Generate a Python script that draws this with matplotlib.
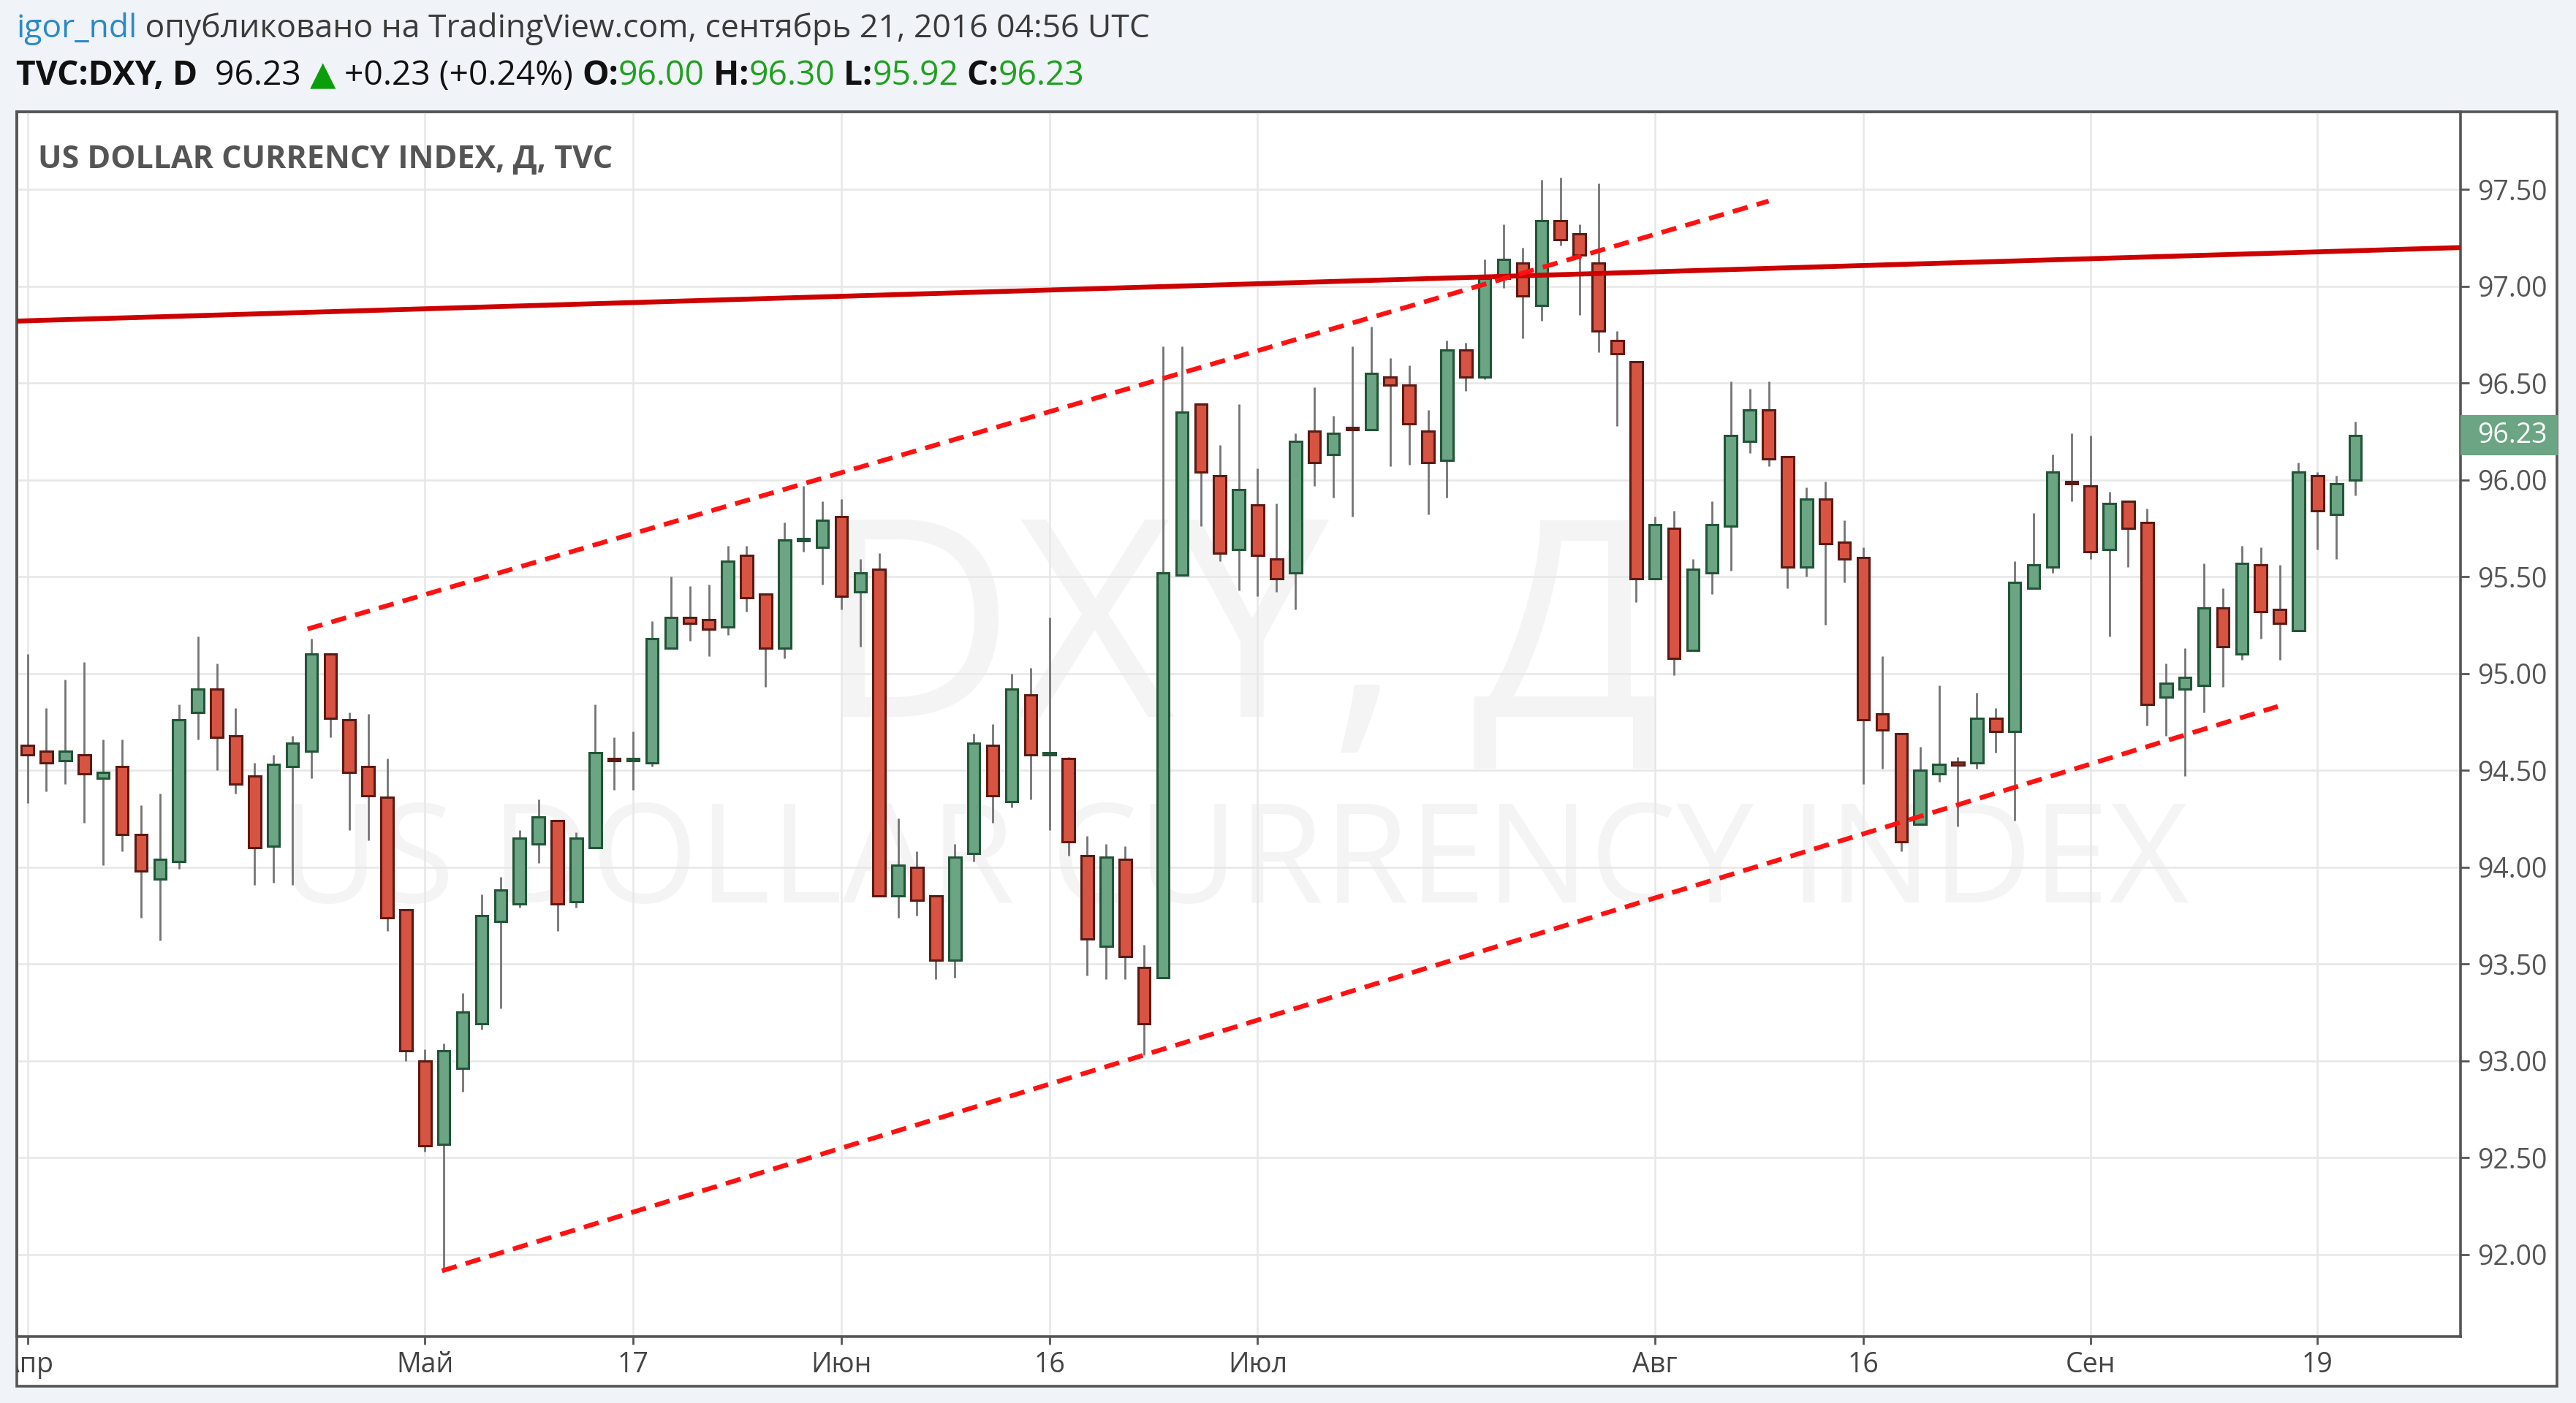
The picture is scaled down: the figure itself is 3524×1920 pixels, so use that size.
import numpy as np
import matplotlib
matplotlib.use('Agg')
import matplotlib.pyplot as plt
from matplotlib.patches import Rectangle
from matplotlib.transforms import Bbox, TransformedBbox, blended_transform_factory

# ---------------- data (TVC:DXY daily, 2016-04-01 .. 2016-09-21) ----------------
opens = [94.63, 94.60, 94.55, 94.58, 94.46, 94.52, 94.17, 93.94, 94.03, 94.80,
         94.92, 94.68, 94.47, 94.11, 94.52, 94.60, 95.10, 94.76, 94.52, 94.36,
         93.78, 93.00, 92.57, 92.96, 93.19, 93.72, 93.81, 94.12, 94.24, 93.82,
         94.10, 94.56, 94.55, 94.54, 95.13, 95.29, 95.28, 95.24, 95.61, 95.41,
         95.13, 95.69, 95.65, 95.81, 95.42, 95.54, 93.85, 94.00, 93.85, 93.52,
         94.07, 94.63, 94.34, 94.89, 94.58, 94.56, 94.06, 93.59, 94.04, 93.48,
         93.43, 95.51, 96.39, 96.02, 95.64, 95.87, 95.59, 95.52, 96.25, 96.13,
         96.27, 96.26, 96.53, 96.49, 96.25, 96.10, 96.67, 96.53, 97.04, 97.12,
         96.90, 97.34, 97.27, 97.12, 96.72, 96.61, 95.49, 95.75, 95.12, 95.52,
         95.76, 96.20, 96.36, 96.12, 95.55, 95.90, 95.68, 95.60, 94.79, 94.69,
         94.22, 94.48, 94.54, 94.54, 94.77, 94.70, 95.44, 95.55, 95.99, 95.97,
         95.64, 95.89, 95.78, 94.88, 94.92, 94.94, 95.34, 95.10, 95.56, 95.33,
         95.22, 96.02, 95.82, 96.00]
highs = [95.10, 94.82, 94.97, 95.06, 94.66, 94.66, 94.32, 94.38, 94.84, 95.19,
         95.05, 94.82, 94.54, 94.58, 94.68, 95.18, 95.10, 94.80, 94.79, 94.56,
         93.78, 93.06, 93.09, 93.35, 93.86, 93.95, 94.19, 94.35, 94.24, 94.18,
         94.84, 94.67, 94.70, 95.27, 95.50, 95.45, 95.46, 95.66, 95.66, 95.41,
         95.78, 95.97, 95.89, 95.90, 95.59, 95.62, 94.25, 94.08, 93.85, 94.12,
         94.69, 94.74, 95.00, 95.03, 95.29, 94.57, 94.16, 94.12, 94.11, 93.60,
         96.69, 96.69, 96.39, 96.18, 96.39, 96.06, 95.88, 96.24, 96.48, 96.33,
         96.69, 96.79, 96.63, 96.59, 96.36, 96.72, 96.71, 97.14, 97.32, 97.20,
         97.55, 97.56, 97.32, 97.53, 96.77, 96.61, 95.81, 95.84, 95.59, 95.89,
         96.51, 96.47, 96.51, 96.12, 95.96, 95.99, 95.79, 95.65, 95.09, 94.69,
         94.62, 94.94, 94.57, 94.90, 94.82, 95.58, 95.83, 96.13, 96.24, 96.23,
         95.94, 95.89, 95.85, 95.05, 95.13, 95.57, 95.44, 95.66, 95.65, 95.56,
         96.09, 96.04, 96.02, 96.30]
lows = [94.33, 94.39, 94.43, 94.23, 94.01, 94.08, 93.74, 93.62, 93.99, 94.66,
        94.50, 94.38, 93.91, 93.92, 93.91, 94.46, 94.67, 94.19, 94.14, 93.67,
        93.00, 92.53, 91.92, 92.84, 93.16, 93.27, 93.79, 94.02, 93.67, 93.79,
        94.10, 94.40, 94.40, 94.52, 95.13, 95.17, 95.09, 95.20, 95.32, 94.93,
        95.08, 95.63, 95.46, 95.33, 95.14, 93.85, 93.74, 93.75, 93.42, 93.43,
        94.03, 94.23, 94.31, 94.35, 94.19, 94.06, 93.44, 93.42, 93.42, 93.03,
        93.43, 95.51, 95.76, 95.58, 95.43, 95.40, 95.42, 95.33, 95.97, 95.91,
        95.81, 96.26, 96.07, 96.08, 95.82, 95.91, 96.46, 96.52, 96.99, 96.73,
        96.82, 97.21, 96.85, 96.66, 96.28, 95.37, 95.49, 94.99, 95.12, 95.41,
        95.53, 96.14, 96.07, 95.44, 95.50, 95.25, 95.47, 94.43, 94.51, 94.08,
        94.22, 94.44, 94.21, 94.51, 94.59, 94.24, 95.44, 95.52, 95.89, 95.59,
        95.19, 95.55, 94.73, 94.68, 94.47, 94.80, 94.93, 95.07, 95.18, 95.07,
        95.22, 95.64, 95.59, 95.92]
closes = [94.58, 94.54, 94.60, 94.48, 94.49, 94.17, 93.98, 94.04, 94.76, 94.92,
          94.67, 94.43, 94.10, 94.53, 94.64, 95.10, 94.77, 94.49, 94.37, 93.74,
          93.05, 92.56, 93.05, 93.25, 93.75, 93.88, 94.15, 94.26, 93.81, 94.15,
          94.59, 94.55, 94.56, 95.18, 95.29, 95.26, 95.23, 95.58, 95.39, 95.13,
          95.69, 95.69, 95.79, 95.40, 95.52, 93.85, 94.01, 93.83, 93.52, 94.05,
          94.64, 94.37, 94.92, 94.58, 94.59, 94.13, 93.63, 94.05, 93.54, 93.19,
          95.52, 96.35, 96.04, 95.62, 95.95, 95.61, 95.49, 96.20, 96.09, 96.24,
          96.26, 96.55, 96.49, 96.29, 96.09, 96.67, 96.53, 97.04, 97.14, 96.95,
          97.34, 97.24, 97.16, 96.77, 96.65, 95.49, 95.77, 95.08, 95.54, 95.77,
          96.23, 96.36, 96.11, 95.55, 95.90, 95.67, 95.59, 94.76, 94.71, 94.13,
          94.50, 94.53, 94.53, 94.77, 94.70, 95.47, 95.56, 96.04, 95.98, 95.63,
          95.88, 95.75, 94.84, 94.95, 94.98, 95.34, 95.14, 95.57, 95.32, 95.26,
          96.04, 95.84, 95.98, 96.23]

tick_idx = [0, 21, 32, 43, 54, 65, 86, 97, 109, 121]
tick_labels = ['Апр', 'Май', '17', 'Июн', '16', 'Июл', 'Авг', '16', 'Сен', '19']
y_ticks = [92.0, 92.5, 93.0, 93.5, 94.0, 94.5, 95.0, 95.5, 96.0, 96.5, 97.0, 97.5]
last_price = 96.23

# drawn trend lines (bar index, price)
resist_x, resist_y = [-0.6, 128.6], [96.82, 97.20]
upper_x, upper_y = [14.8, 92.0], [95.23, 97.44]
lower_x, lower_y = [21.9, 118.9], [91.915, 94.83]

# ---------------- figure ----------------
W, H, DPI = 3524, 1920, 200
plt.rcParams['font.family'] = ['Open Sans', 'DejaVu Sans']
fig = plt.figure(figsize=(W / DPI, H / DPI), dpi=DPI, facecolor='#f0f3f8')


def fx(px):
    return px / W


def fy(py):
    return 1 - py / H


PL, PR, PT, PB = 22.5, 3498, 153, 1897      # outer white panel (px)
AL, AR, AT, AB = 22.5, 3365.6, 153, 1829    # plot area (px)
YMIN, YMAX = 91.576, 97.901

panel = Rectangle((fx(PL), fy(PB)), fx(PR) - fx(PL), fy(PT) - fy(PB),
                  transform=fig.transFigure, facecolor='white',
                  edgecolor='#555555', lw=1.3, zorder=-5)
fig.patches.append(panel)

ax = fig.add_axes([fx(AL), fy(AB), fx(AR) - fx(AL), fy(AT) - fy(AB)])
ax.set_zorder(2)
ax.set_facecolor('none')
ax.set_xlim(-0.583, 128.54)
ax.set_ylim(YMIN, YMAX)

# watermark
ax.text(0.5, 0.565, 'DXY, Д', transform=ax.transAxes, ha='center', va='center',
        fontsize=136, color='#f4f4f4', zorder=0.1)
ax.text(0.498, 0.3837, 'US DOLLAR CURRENCY INDEX', transform=ax.transAxes,
        ha='center', va='center', fontsize=68, color='#f4f4f4', zorder=0.1)

# grid
ax.set_axisbelow(True)
ax.set_xticks(tick_idx)
ax.set_yticks(y_ticks)
ax.grid(True, color='#e7e7e7', lw=0.9)

# candles
o = np.array(opens); h = np.array(highs); l = np.array(lows); c = np.array(closes)
x = np.arange(len(o))
up = c >= o
bh = np.maximum(np.abs(c - o), 0.012)
bb = (o + c) / 2 - bh / 2
ax.vlines(x, l, h, color='#747474', lw=1.0, zorder=3)
ax.bar(x[up], bh[up], bottom=bb[up], width=0.64, color='#6ba583',
       edgecolor='#225437', lw=1.1, zorder=4)
ax.bar(x[~up], bh[~up], bottom=bb[~up], width=0.64, color='#d75442',
       edgecolor='#5b1a13', lw=1.1, zorder=4)

# trend lines
ax.plot(resist_x, resist_y, color='#cc0000', lw=2.4, zorder=5, solid_capstyle='butt')
for xs, ys in ((upper_x, upper_y), (lower_x, lower_y)):
    ax.plot(xs, ys, color='#ff1111', lw=2.3, ls=(0, (3.3, 2.0)), zorder=5,
            dash_capstyle='butt')

# spines / ticks
for s in ax.spines.values():
    s.set_color('#555555')
    s.set_linewidth(1.3)
ax.yaxis.tick_right()
ax.yaxis.set_major_formatter(matplotlib.ticker.FormatStrFormatter('%.2f'))
ax.tick_params(axis='y', direction='out', length=4.3, width=1.0, color='#555555',
               pad=4.3, labelsize=13.5, labelcolor='#555555')
ax.tick_params(axis='x', direction='out', length=4.0, width=1.0, color='#555555',
               labelbottom=False)

clip = TransformedBbox(Bbox.from_extents(fx(PL), 0, fx(PR), 1), fig.transFigure)
tr = blended_transform_factory(ax.transData, ax.transAxes)
for i, lab in zip(tick_idx, tick_labels):
    t = ax.text(i, -(1868 - AB) / (AB - AT), lab, transform=tr, ha='center',
                va='center', fontsize=13.5, color='#444444', clip_on=True)
    t.set_clip_box(clip)

# last price label
ax_w_px = AR - AL
box = Rectangle((1.0, (last_price - YMIN) / (YMAX - YMIN) - 0.0164),
                (3499 - AR) / ax_w_px, 0.0328, transform=ax.transAxes,
                facecolor='#6ba583', edgecolor='none', clip_on=False, zorder=6)
ax.add_patch(box)
ax.text(1.0 + (3389.5 - AR) / ax_w_px, last_price, f'{last_price:.2f}',
        transform=blended_transform_factory(ax.transAxes, ax.transData),
        ha='left', va='center', fontsize=13.5, color='white', zorder=7,
        clip_on=False)

# chart title
fig.text(fx(52), fy(218), 'US DOLLAR CURRENCY INDEX, Д, TVC', fontsize=15.5,
         fontweight='bold', color='#555555', ha='left', va='center')

# header
renderer = fig.canvas.get_renderer()


def rich(x0, y, parts, size):
    xx = x0
    for s, col, wt in parts:
        t = fig.text(xx, y, s, color=col, fontsize=size, fontweight=wt,
                     ha='left', va='center')
        e = t.get_window_extent(renderer=renderer)
        xx += e.width / W


GREEN = '#1fa01f'
rich(fx(22), fy(40), [('igor_ndl', '#2a8ac6', 'normal'),
                      (' опубликовано на TradingView.com, сентябрь 21, 2016 04:56 UTC',
                       '#3a3a3a', 'normal')], 16)
rich(fx(22), fy(104), [('TVC:DXY, D', '#111111', 'bold'),
                       ('  96.23 ', '#111111', 'normal'),
                       ('▲', '#0b9e0b', 'normal'),
                       (' +0.23 (+0.24%) ', '#111111', 'normal'),
                       ('O:', '#111111', 'bold'), ('96.00', GREEN, 'normal'),
                       (' H:', '#111111', 'bold'), ('96.30', GREEN, 'normal'),
                       (' L:', '#111111', 'bold'), ('95.92', GREEN, 'normal'),
                       (' C:', '#111111', 'bold'), ('96.23', GREEN, 'normal')], 16.6)

fig.savefig('out.png', dpi=DPI, facecolor=fig.get_facecolor())
